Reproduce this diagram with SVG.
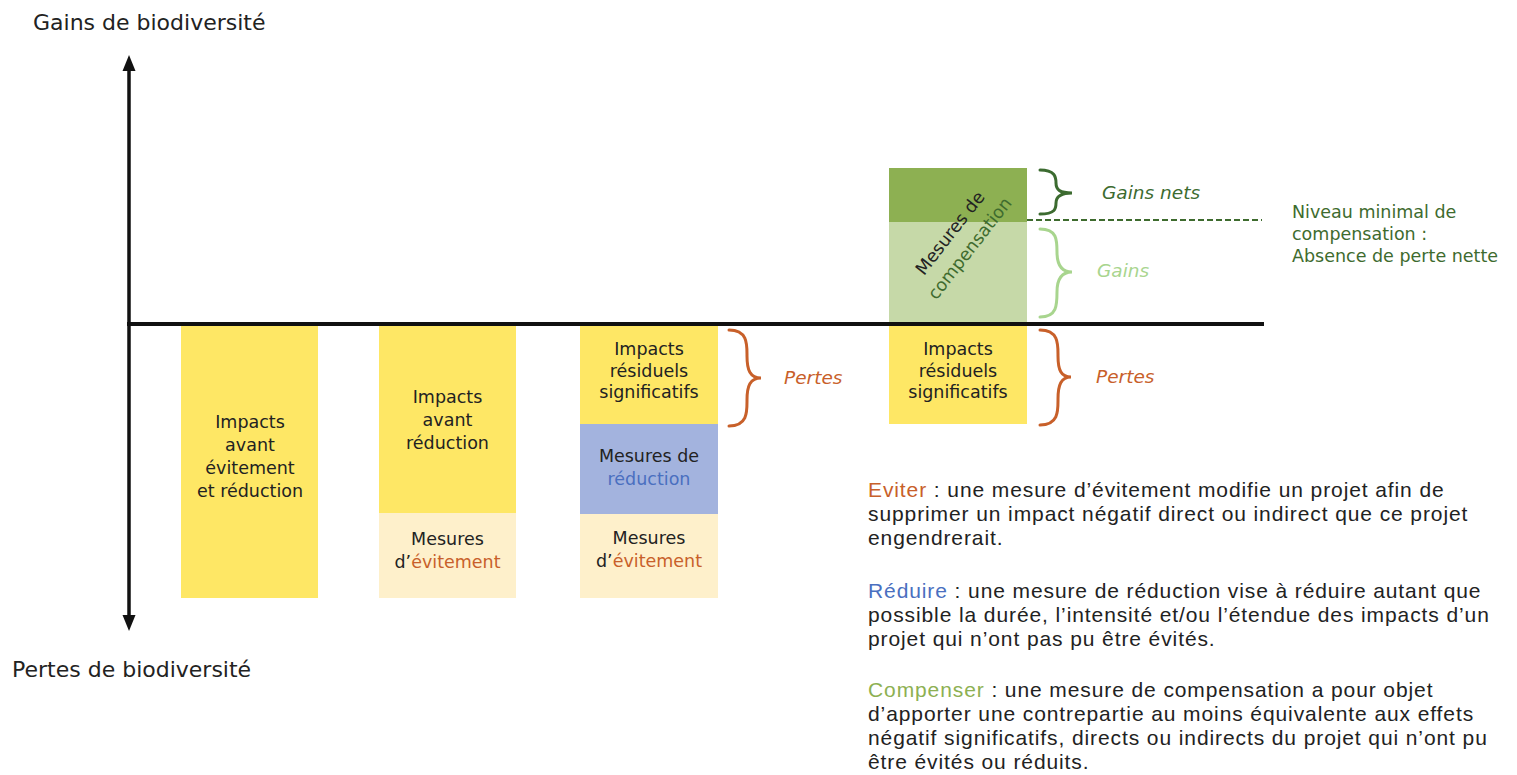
<svg xmlns="http://www.w3.org/2000/svg" width="1517" height="775" viewBox="0 0 1517 775">
<defs>
<style>
.lbl{font-family:"DejaVu Sans","Noto Sans",sans-serif;font-size:17.5px;fill:#222;text-anchor:middle}
.ax{font-family:"DejaVu Sans","Noto Sans",sans-serif;font-size:22px;fill:#222}
.def{font-family:"Liberation Sans",Arial,sans-serif;font-size:21px;fill:#222;letter-spacing:0.9px}
.it{font-family:"DejaVu Sans","Noto Sans",sans-serif;font-size:18.5px;font-style:italic}
.niv{font-family:"DejaVu Sans","Noto Sans",sans-serif;font-size:17.5px;fill:#3E6B2E}
.brace{fill:none;stroke-width:3;stroke-linecap:round}
.or{fill:#C8602A}
.bl{fill:#4A6FC0}
.gr{fill:#8DB052}
.y{fill:#FEE765}
.c{fill:#FEF0CB}
</style>
</defs>
<rect width="1517" height="775" fill="#fff"/>
<g id="axes">
<line x1="129" y1="68" x2="129" y2="618" stroke="#111" stroke-width="3.5"/>
<polygon points="129,55 122.5,71 135.5,71" fill="#111"/>
<polygon points="129,631 122.5,615 135.5,615" fill="#111"/>
<line x1="127" y1="324" x2="1264" y2="324" stroke="#111" stroke-width="4"/>
<text class="ax" x="33" y="30">Gains de biodiversité</text>
<text class="ax" x="12" y="677">Pertes de biodiversité</text>
</g>
<g id="bar1">
<rect class="y" x="181" y="326" width="137" height="272"/>
<text class="lbl" x="250" y="428">Impacts</text>
<text class="lbl" x="250" y="451">avant</text>
<text class="lbl" x="250" y="474">évitement</text>
<text class="lbl" x="250" y="497">et réduction</text>
</g>
<g id="bar2">
<rect class="y" x="379" y="326" width="137" height="187"/>
<rect class="c" x="379" y="513" width="137" height="85"/>
<text class="lbl" x="447.5" y="403">Impacts</text>
<text class="lbl" x="447.5" y="426">avant</text>
<text class="lbl" x="447.5" y="449">réduction</text>
<text class="lbl" x="447.5" y="545">Mesures</text>
<text class="lbl" x="447.5" y="568">d’<tspan class="or">évitement</tspan></text>
</g>
<g id="bar3">
<rect class="y" x="580" y="326" width="138" height="98"/>
<rect fill="#A3B3DE" x="580" y="424" width="138" height="90"/>
<rect class="c" x="580" y="514" width="138" height="84"/>
<text class="lbl" x="649" y="355">Impacts</text>
<text class="lbl" x="649" y="377">résiduels</text>
<text class="lbl" x="649" y="398">significatifs</text>
<text class="lbl" x="649" y="462">Mesures de</text>
<text class="lbl" x="649" y="485"><tspan class="bl">réduction</tspan></text>
<text class="lbl" x="649" y="544">Mesures</text>
<text class="lbl" x="649" y="567">d’<tspan class="or">évitement</tspan></text>
</g>
<g id="bar4">
<rect fill="#8DB052" x="889" y="168" width="138" height="54"/>
<rect fill="#C6D9A8" x="889" y="222" width="138" height="100"/>
<rect class="y" x="889" y="326" width="138" height="98"/>
<text class="lbl" x="958" y="355">Impacts</text>
<text class="lbl" x="958" y="377">résiduels</text>
<text class="lbl" x="958" y="398">significatifs</text>
<g transform="translate(950,233) rotate(-52)">
<text class="lbl" x="0" y="6">Mesures de</text>
<text class="lbl" x="0" y="31" style="fill:#3E6B2E">compensation</text>
</g>
</g>
<g id="connectors">
<line x1="1027" y1="220" x2="1262" y2="220" stroke="#3E6B2E" stroke-width="2" stroke-dasharray="6,3"/>
<path class="brace" stroke="#C8602A" d="M729,330 C748,330 747,345 747,356 C747,370 750,378 761,378 C750,378 747,386 747,400 C747,411 748,426 729,426"/>
<path class="brace" stroke="#C8602A" d="M1040,330 C1059,330 1058,345 1058,356 C1058,370 1061,377 1071,377 C1061,377 1058,385 1058,399 C1058,410 1059,425 1040,425"/>
<path class="brace" stroke="#3C6B30" d="M1040,170 C1055,170 1056,177 1056,183 C1056,190 1060,193 1072,193 C1060,193 1056,197 1056,203 C1056,209 1055,214 1040,214"/>
<path class="brace" stroke="#A8D58E" d="M1040,229 C1057,229 1057,240 1057,252 C1057,264 1061,272 1072,272 C1061,272 1057,280 1057,292 C1057,305 1057,317 1040,317"/>
</g>
<g id="labels">
<text class="it or" x="784" y="384">Pertes</text>
<text class="it or" x="1096" y="383">Pertes</text>
<text class="it" x="1102" y="199" fill="#3C6B30">Gains nets</text>
<text class="it" x="1097" y="277" fill="#A8D58E">Gains</text>
<text class="niv" x="1292" y="218">Niveau minimal de<tspan x="1292" dy="22">compensation :</tspan><tspan x="1292" dy="22">Absence de perte nette</tspan></text>
</g>
<g id="definitions">
<text class="def" x="868" y="497"><tspan class="or">Eviter</tspan> : une mesure d’évitement modifie un projet afin de<tspan x="868" dy="24">supprimer un impact négatif direct ou indirect que ce projet</tspan><tspan x="868" dy="24">engendrerait.</tspan></text>
<text class="def" x="868" y="598"><tspan class="bl">Réduire</tspan> : une mesure de réduction vise à réduire autant que<tspan x="868" dy="24">possible la durée, l’intensité et/ou l’étendue des impacts d’un</tspan><tspan x="868" dy="24">projet qui n’ont pas pu être évités.</tspan></text>
<text class="def" x="868" y="697"><tspan class="gr">Compenser</tspan> : une mesure de compensation a pour objet<tspan x="868" dy="24">d’apporter une contrepartie au moins équivalente aux effets</tspan><tspan x="868" dy="24">négatif significatifs, directs ou indirects du projet qui n’ont pu</tspan><tspan x="868" dy="24">être évités ou réduits.</tspan></text>
</g>
</svg>
